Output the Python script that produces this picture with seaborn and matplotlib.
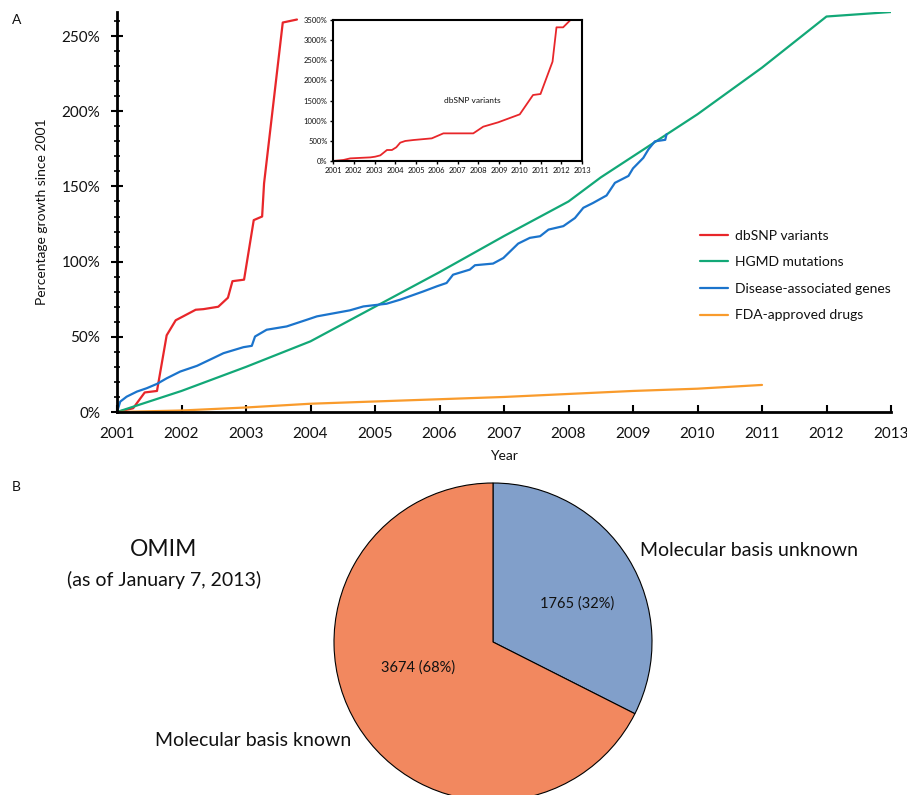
import numpy as np
import pandas as pd
import matplotlib.pyplot as plt
import seaborn as sns

# growth since 2001, percent
dbsnp_year = [2001.0, 2001.25, 2001.43, 2001.62, 2001.77, 2001.91, 2002.22, 2002.34,
              2002.57, 2002.72, 2002.79, 2002.97, 2003.12, 2003.25, 2003.28, 2003.57, 2003.79]
dbsnp_pct = [0, 2.5, 13, 14, 51, 61, 68, 68.4, 70, 76, 87, 88, 127.6, 130, 152, 259, 261]

hgmd_year = [2001, 2002, 2003, 2004, 2005, 2006, 2007, 2008, 2008.5, 2009, 2010, 2011, 2012, 2013]
hgmd_pct = [0, 14, 30, 47, 70, 93, 117, 140, 156, 170, 198, 229, 263, 266]

genes_year = [2001.0, 2001.05, 2001.15, 2001.31, 2001.46, 2001.62, 2001.77, 2001.98, 2002.24,
              2002.49, 2002.65, 2002.96, 2003.09, 2003.14, 2003.32, 2003.63, 2003.94, 2004.1,
              2004.61, 2004.82, 2005.18, 2005.39, 2005.75, 2005.96, 2006.11, 2006.21, 2006.47,
              2006.55, 2006.83, 2006.99, 2007.22, 2007.40, 2007.56, 2007.69, 2007.92, 2008.10,
              2008.23, 2008.38, 2008.59, 2008.72, 2008.93, 2009.0, 2009.16, 2009.24, 2009.34,
              2009.50, 2009.52]
genes_pct = [0, 6.9, 10.2, 13.6, 15.8, 18.7, 22.4, 26.9, 30.7,
             35.8, 39.1, 43.1, 44, 50.2, 54.7, 56.9, 61.3, 63.6,
             67.6, 70.2, 72, 74.7, 80.2, 83.6, 85.8, 91.3, 94.7,
             97.6, 98.7, 102.4, 112, 115.8, 116.9, 121.3, 123.6, 129,
             135.8, 139, 144, 152.4, 157, 162, 169, 174.7, 180,
             181, 184.7]

fda_year = [2001, 2002, 2003, 2004, 2005, 2006, 2007, 2008, 2009, 2010, 2011]
fda_pct = [0, 1, 3, 5.5, 7, 8.5, 10, 12, 14, 15.5, 18]

# inset: full dbSNP series
inset_year = [2001.0, 2001.5, 2001.83, 2002.8, 2003.03, 2003.28, 2003.6, 2003.84, 2004.05,
              2004.24, 2004.48, 2004.88, 2005.76, 2006.32, 2007.76, 2008.24, 2008.96, 2010.0,
              2010.64, 2011.0, 2011.58, 2011.77, 2012.09, 2012.6]
inset_pct = [0, 25, 65, 90, 107, 140, 273, 273, 340,
             455, 497, 521, 562, 686, 686, 852, 960, 1158,
             1638, 1663, 2466, 3318, 3318, 3580]

# OMIM pie
omim_labels = ["Molecular basis unknown", "Molecular basis known"]
omim_counts = [1765, 3674]

RED, GREEN, BLUE, ORANGE = "#e8262a", "#12a877", "#1b74cc", "#f99b2c"
PIE_COLORS = ["#819fca", "#f2885f"]

sns.set_theme(style="ticks")
plt.rcParams["font.family"] = ["Lato", "DejaVu Sans"]
plt.rcParams.update({"text.color": "#111111", "axes.labelcolor": "#111111",
                     "xtick.color": "black", "ytick.color": "black",
                     "xtick.labelcolor": "#111111", "ytick.labelcolor": "#111111"})

fig = plt.figure(figsize=(9.07, 7.95), dpi=100)
W, H = 907, 795


def ax_rect(l, t, r, b):
    return [l / W, 1 - b / H, (r - l) / W, (b - t) / H]


# ---- panel A ----
ax = fig.add_axes(ax_rect(117, 12, 891, 412))
series = [("dbSNP variants", dbsnp_year, dbsnp_pct, RED),
          ("HGMD mutations", hgmd_year, hgmd_pct, GREEN),
          ("Disease-associated genes", genes_year, genes_pct, BLUE),
          ("FDA-approved drugs", fda_year, fda_pct, ORANGE)]
for name, xs, ys, c in series:
    sns.lineplot(x=xs, y=ys, ax=ax, color=c, linewidth=1.6, label=name, sort=False)

ax.set_xlim(2001, 2013)
ax.set_ylim(0, 266)
ax.set_xticks(range(2001, 2014))
ax.set_yticks(range(0, 251, 50))
ax.set_yticks(range(0, 261, 10), minor=True)
ax.set_yticklabels([f"{v}%" for v in range(0, 251, 50)])
ax.tick_params(axis="x", direction="in", length=5, width=1.5, labelsize=11, pad=11)
ax.tick_params(axis="y", which="major", direction="inout", length=8, width=1.5, labelsize=11, pad=8)
ax.tick_params(axis="y", which="minor", direction="inout", length=5, width=1.2)
for s in ["left", "bottom"]:
    ax.spines[s].set_linewidth(2)
    ax.spines[s].set_color("black")
sns.despine(ax=ax)
ax.set_xlabel("Year", fontsize=10, labelpad=6)
ax.set_ylabel("Percentage growth since 2001", fontsize=10, labelpad=10)
ax.legend(loc="upper left", bbox_to_anchor=(0.737, 0.487), frameon=False, fontsize=10,
          handlelength=2.0, labelspacing=1.05, handletextpad=0.5)

# inset
ins = fig.add_axes(ax_rect(333, 20, 582, 161))
sns.lineplot(x=inset_year, y=inset_pct, ax=ins, color=RED, linewidth=1.3, sort=False)
ins.set_xlim(2001, 2013)
ins.set_ylim(0, 3500)
ins.set_xticks(range(2001, 2014))
ins.set_yticks(range(0, 3501, 500))
ins.set_yticklabels([f"{v}%" for v in range(0, 3501, 500)])
ins.tick_params(labelsize=5.5, length=2.5, width=1, pad=1.5)
for s in ins.spines.values():
    s.set_linewidth(1.5)
    s.set_color("black")
ins.text(2007.7, 1500, "dbSNP variants", fontsize=6, ha="center", va="center")

# ---- panel B ----
pax = fig.add_axes(ax_rect(334, 483, 652, 801))
wedges, texts = pax.pie(omim_counts, colors=PIE_COLORS, startangle=90, counterclock=False,
                        wedgeprops=dict(edgecolor="black", linewidth=0.8))
pax.set_xlim(-1, 1)
pax.set_ylim(-1, 1)
pax.set_aspect("equal")
for w in wedges:
    w.set_clip_on(False)
pax.text(0.53, 0.24, f"{omim_counts[0]} ({omim_counts[0] / sum(omim_counts) * 100:.0f}%)",
         fontsize=10.5, ha="center", va="center")
pax.text(-0.47, -0.16, f"{omim_counts[1]} ({omim_counts[1] / sum(omim_counts) * 100:.0f}%)",
         fontsize=10.5, ha="center", va="center")

fig.text(749 / W, 1 - 551 / H, omim_labels[0], fontsize=14, ha="center", va="center")
fig.text(253 / W, 1 - 740 / H, omim_labels[1], fontsize=14, ha="center", va="center")
fig.text(164 / W, 1 - 550 / H, "OMIM", fontsize=16.5, ha="center", va="center")
fig.text(164 / W, 1 - 580 / H, "(as of January 7, 2013)", fontsize=14, ha="center", va="center")

fig.text(12 / W, 1 - 20 / H, "A", fontsize=10, ha="left", va="center")
fig.text(12 / W, 1 - 487 / H, "B", fontsize=10, ha="left", va="center")

fig.savefig("out.png", dpi=100)
